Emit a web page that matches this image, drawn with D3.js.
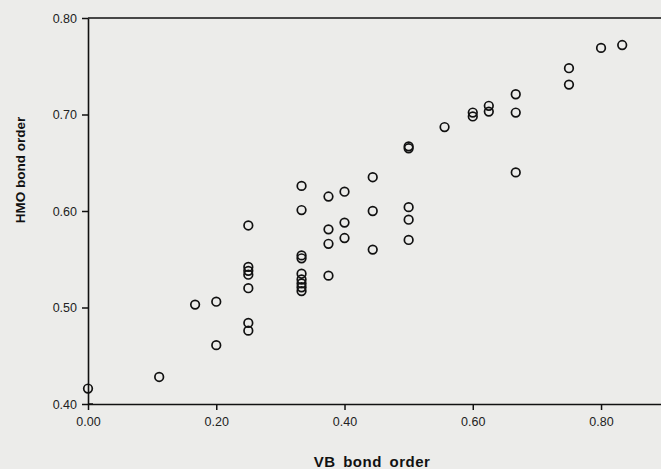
<!DOCTYPE html>
<html>
<head>
<meta charset="utf-8">
<script src="https://cdn.jsdelivr.net/npm/d3@7"></script>
<style>
  html, body { margin: 0; padding: 0; background: #ecece b; }
  body { background: #ececea; }
  svg { display: block; font-family: "Liberation Sans", Arial, sans-serif; }
</style>
</head>
<body>
<svg id="chart" width="661" height="469"></svg>
<script>
// VB bond order (x) vs HMO bond order (y)
var vbOrder = [0.000, 0.111, 0.167, 0.200, 0.200,
  0.250, 0.250, 0.250, 0.250, 0.250, 0.250, 0.250,
  0.333, 0.333, 0.333, 0.333, 0.333, 0.333, 0.333, 0.333, 0.333,
  0.375, 0.375, 0.375, 0.375,
  0.400, 0.400, 0.400,
  0.444, 0.444, 0.444,
  0.500, 0.500, 0.500, 0.500, 0.500,
  0.556, 0.600, 0.600, 0.625, 0.625,
  0.667, 0.667, 0.667, 0.750, 0.750, 0.800, 0.833];
var hmoOrder = [0.416, 0.428, 0.503, 0.506, 0.461,
  0.585, 0.542, 0.538, 0.534, 0.520, 0.484, 0.476,
  0.626, 0.601, 0.554, 0.551, 0.535, 0.529, 0.525, 0.521, 0.517,
  0.615, 0.581, 0.566, 0.533,
  0.620, 0.588, 0.572,
  0.635, 0.600, 0.560,
  0.667, 0.665, 0.604, 0.591, 0.570,
  0.687, 0.702, 0.698, 0.709, 0.703,
  0.721, 0.702, 0.640, 0.748, 0.731, 0.769, 0.772];

var xTicks = [0, 0.2, 0.4, 0.6, 0.8];
var yTicks = [0.4, 0.5, 0.6, 0.7, 0.8];

var svg = d3.select("#chart");
var plotLeft = 88, plotTop = 18, plotBottom = 404, plotRight = 661;

var x = d3.scaleLinear().domain([0, 0.8935]).range([plotLeft, plotRight]);
var y = d3.scaleLinear().domain([0.4, 0.8]).range([plotBottom, plotTop]);

var fmt = d3.format(".2f");

// x axis, ticks pointing down
var gx = svg.append("g")
  .attr("transform", "translate(0," + plotBottom + ")")
  .call(d3.axisBottom(x).tickValues(xTicks).tickFormat(fmt).tickSize(6).tickPadding(7).tickSizeOuter(0));

// y axis, ticks pointing left
var gy = svg.append("g")
  .attr("transform", "translate(" + plotLeft + ",0)")
  .call(d3.axisLeft(y).tickValues(yTicks).tickFormat(fmt).tickSize(6).tickPadding(5).tickSizeOuter(0));

[gx, gy].forEach(function(g){
  g.select(".domain").attr("stroke", "#111").attr("stroke-width", 1.6);
  g.selectAll(".tick line").attr("stroke", "#111").attr("stroke-width", 1.5);
  g.selectAll(".tick text").attr("fill", "#222").style("font-size", "12.5px");
});

// little cross at the origin
svg.append("line")
  .attr("x1", plotLeft).attr("x2", plotLeft + 5)
  .attr("y1", y(0.4)).attr("y2", y(0.4))
  .attr("stroke", "#111").attr("stroke-width", 1.5);

// top frame line
svg.append("line")
  .attr("x1", plotLeft).attr("x2", plotRight)
  .attr("y1", plotTop).attr("y2", plotTop)
  .attr("stroke", "#111").attr("stroke-width", 1.6);

// points
svg.append("g")
  .selectAll("circle")
  .data(d3.range(vbOrder.length))
  .enter().append("circle")
  .attr("cx", function(i){ return x(vbOrder[i]); })
  .attr("cy", function(i){ return y(hmoOrder[i]); })
  .attr("r", 4.3)
  .attr("fill", "none")
  .attr("stroke", "#111")
  .attr("stroke-width", 1.7);

// axis titles
svg.append("text")
  .attr("x", 372).attr("y", 467)
  .attr("text-anchor", "middle")
  .style("font-size", "15px").style("font-weight", "bold")
  .style("letter-spacing", "0.5px").style("word-spacing", "3px")
  .attr("fill", "#111")
  .text("VB bond order");

svg.append("text")
  .attr("transform", "translate(25,170) rotate(-90)")
  .attr("text-anchor", "middle")
  .style("font-size", "13.5px").style("font-weight", "bold")
  .attr("fill", "#111")
  .text("HMO bond order");
</script>
</body>
</html>
